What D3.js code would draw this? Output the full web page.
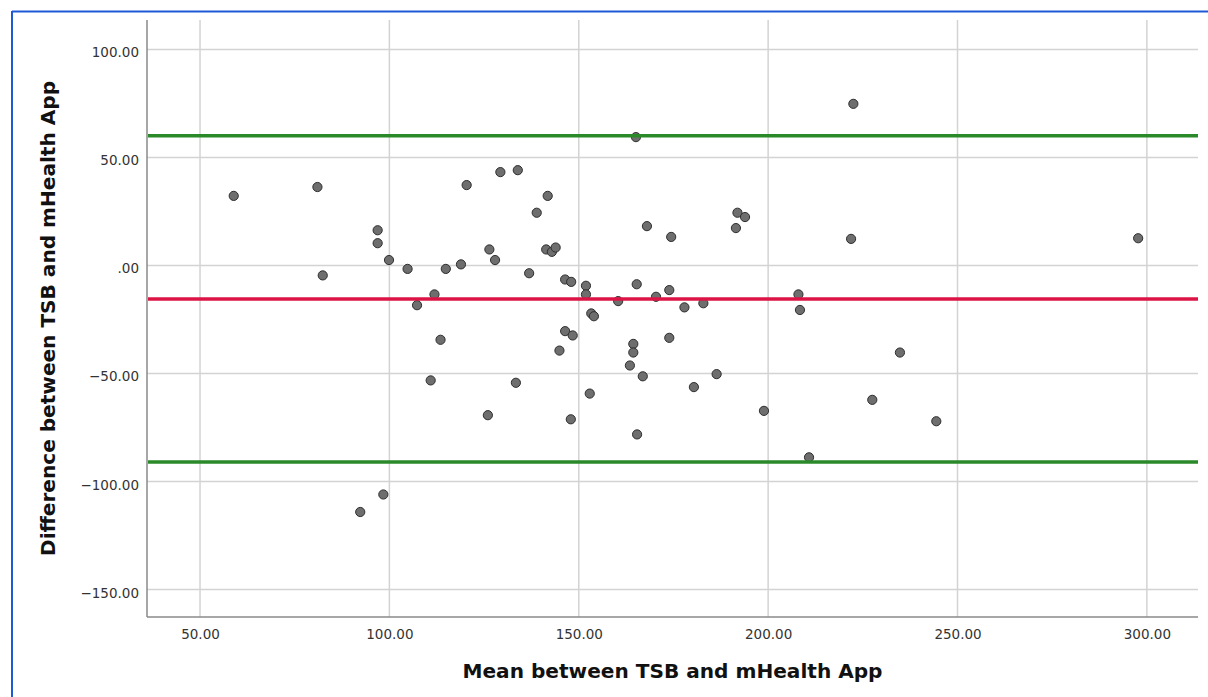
<!DOCTYPE html>
<html>
<head>
<meta charset="utf-8">
<script src="https://cdn.jsdelivr.net/npm/d3@7"></script>
<style>
  html, body { margin: 0; padding: 0; background: #fff; }
  svg { display: block; }
</style>
</head>
<body>
<svg id="chart" width="1208" height="697"></svg>
<script>
// ---- data ----
const meanValues = [
  58.9, 81.0, 82.4, 96.9, 96.9, 99.9, 104.8, 107.3, 98.4, 92.3,
  110.9, 111.9, 113.5, 114.9, 118.9, 120.4, 126.0, 126.4, 127.9, 129.3,
  133.9, 133.4, 136.9, 138.9, 141.8, 141.4, 142.9, 143.9, 144.9, 146.4,
  146.4, 148.0, 147.9, 148.4, 151.9, 151.9, 152.9, 153.3, 154.0, 160.4,
  163.5, 164.4, 164.4, 165.1, 165.3, 165.4, 166.9, 168.0, 170.4, 173.9,
  174.4, 173.9, 177.9, 180.4, 182.9, 186.4, 191.5, 191.9, 193.9, 198.9,
  208.0, 208.4, 210.8, 222.5, 221.9, 227.5, 234.8, 244.4, 297.7
];
const diffValues = [
  32.2, 36.3, -4.6, 16.3, 10.3, 2.5, -1.6, -18.4, -106.0, -114.1,
  -53.2, -13.4, -34.4, -1.6, 0.5, 37.2, -69.3, 7.4, 2.5, 43.2,
  44.1, -54.3, -3.6, 24.4, 32.2, 7.4, 6.3, 8.3, -39.4, -30.4,
  -6.5, -7.6, -71.2, -32.4, -9.4, -13.4, -59.3, -22.2, -23.5, -16.5,
  -46.3, -36.3, -40.3, 59.4, -8.7, -78.2, -51.3, 18.2, -14.5, -11.4,
  13.2, -33.5, -19.4, -56.3, -17.5, -50.3, 17.3, 24.4, 22.4, -67.3,
  -13.4, -20.6, -88.8, 74.8, 12.3, -62.2, -40.3, -72.1, 12.6
];
const meanDiff = -15.5;
const upperLimit = 60.0;
const lowerLimit = -91.0;
const xTicks = [50, 100, 150, 200, 250, 300];
const yTicks = [100, 50, 0, -50, -100, -150];
const xTitle = "Mean between TSB and mHealth App";
const yTitle = "Difference between TSB and mHealth App";

function fmt(v) {
  if (v === 0) return ".00";
  const s = Math.abs(v).toFixed(2);
  return (v < 0 ? "\u2212" : "") + s;
}

(function draw() {
  const svg = d3.select("#chart");
  const pLeft = 147, pRight = 1198, pTop = 20, pBottom = 617;

  const x = d3.scaleLinear().domain([36, 313.5]).range([pLeft, pRight]);
  const y = d3.scaleLinear().domain([-162.7, 113.6]).range([pBottom, pTop]);

  // blue frame
  svg.append("line").attr("x1", 12).attr("x2", 1208).attr("y1", 11.5).attr("y2", 11.5)
    .attr("stroke", "#1f5ad6").attr("stroke-width", 2);
  svg.append("line").attr("x1", 12).attr("x2", 12).attr("y1", 11).attr("y2", 697)
    .attr("stroke", "#1f5ad6").attr("stroke-width", 2);

  // gridlines
  const grid = svg.append("g");
  grid.selectAll(".vg").data(xTicks).join("line")
    .attr("x1", d => x(d)).attr("x2", d => x(d))
    .attr("y1", pTop).attr("y2", pBottom)
    .attr("stroke", "#d3d3d3").attr("stroke-width", 1.5);
  grid.selectAll(".hg").data(yTicks).join("line")
    .attr("x1", pLeft).attr("x2", pRight)
    .attr("y1", d => y(d)).attr("y2", d => y(d))
    .attr("stroke", "#d3d3d3").attr("stroke-width", 1.5);

  // axes
  const xAxis = d3.axisBottom(x).tickValues(xTicks).tickFormat(fmt).tickSize(0).tickPadding(0);
  const yAxis = d3.axisLeft(y).tickValues(yTicks).tickFormat(fmt).tickSize(0).tickPadding(0);

  const gx = svg.append("g").attr("transform", `translate(0,${pBottom})`).call(xAxis);
  const gy = svg.append("g").attr("transform", `translate(${pLeft},0)`).call(yAxis);
  gx.select(".domain").attr("d", `M${pLeft},0H${pRight}`);
  gy.select(".domain").attr("d", `M0,${pTop}V${pBottom}`);
  [gx, gy].forEach(g => {
    g.select(".domain").attr("stroke", "#8a8a8a").attr("stroke-width", 1.5);
    g.selectAll("text").attr("font-family", "DejaVu Sans, sans-serif")
      .attr("font-size", 13.5).attr("fill", "#333");
  });
  gx.selectAll("text").attr("y", 22).attr("dy", 0);
  gy.selectAll("text").attr("x", -8).attr("dy", 7.5);

  // points
  svg.append("g").selectAll("circle").data(meanValues.map((m, i) => [m, diffValues[i]]))
    .join("circle")
    .attr("cx", d => x(d[0])).attr("cy", d => y(d[1]))
    .attr("r", 4.6)
    .attr("fill", "#6e6e6e").attr("stroke", "#2e2e2e").attr("stroke-width", 1);

  // reference lines
  const refs = [
    {v: upperLimit, c: "#2a8a2a"},
    {v: lowerLimit, c: "#2a8a2a"},
    {v: meanDiff, c: "#dc1446"}
  ];
  svg.append("g").selectAll("line").data(refs).join("line")
    .attr("x1", pLeft + 1).attr("x2", pRight)
    .attr("y1", d => y(d.v)).attr("y2", d => y(d.v))
    .attr("stroke", d => d.c).attr("stroke-width", 3.5);

  // titles
  svg.append("text").attr("x", (pLeft + pRight) / 2).attr("y", 678)
    .attr("text-anchor", "middle").attr("font-family", "DejaVu Sans, sans-serif")
    .attr("font-weight", "bold").attr("font-size", 20).attr("fill", "#111")
    .attr("textLength", 420).attr("lengthAdjust", "spacingAndGlyphs")
    .text(xTitle);
  svg.append("text").attr("transform", `translate(55,${(pTop + pBottom) / 2}) rotate(-90)`)
    .attr("text-anchor", "middle").attr("font-family", "DejaVu Sans, sans-serif")
    .attr("font-weight", "bold").attr("font-size", 20).attr("fill", "#111")
    .attr("textLength", 475).attr("lengthAdjust", "spacingAndGlyphs")
    .text(yTitle);
})();
</script>
</body>
</html>
